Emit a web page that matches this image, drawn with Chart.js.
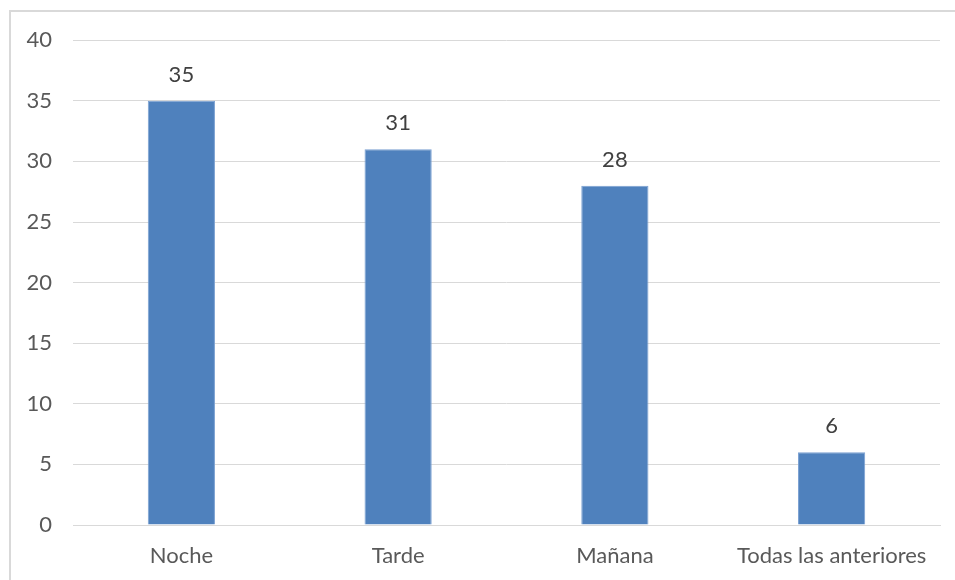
<!DOCTYPE html>
<html>
<head>
<meta charset="utf-8">
<script src="https://cdn.jsdelivr.net/npm/chart.js@4/dist/chart.umd.min.js"></script>
<style>
  html, body { margin: 0; padding: 0; background: #ffffff; }
  body { width: 955px; height: 580px; position: relative; overflow: hidden; }
  #frame {
    position: absolute; left: 9px; top: 10px;
    width: 946px; height: 570px;
    border-top: 2px solid #d9d9d9; border-left: 2px solid #d9d9d9;
  }
  #wrap { position: absolute; left: 0; top: -6px; width: 944px; height: 574px; }
</style>
</head>
<body>
<div id="frame"><div id="wrap"><canvas id="c"></canvas></div></div>
<script>
const categories = ['Noche', 'Tarde', 'Mañana', 'Todas las anteriores'];
const counts = [35, 31, 28, 6];
const yTicks = [0, 5, 10, 15, 20, 25, 30, 35, 40];

const FONT = 'Lato, "Open Sans", sans-serif';

// Writes each bar's value just above its top edge
const valueLabels = {
  id: 'valueLabels',
  afterDatasetsDraw(chart) {
    const ctx = chart.ctx;
    const meta = chart.getDatasetMeta(0);
    ctx.save();
    ctx.font = '22px ' + FONT;
    ctx.fillStyle = '#404040';
    ctx.textAlign = 'center';
    ctx.textBaseline = 'middle';
    meta.data.forEach((bar, i) => {
      ctx.fillText(String(counts[i]), bar.x, bar.y - 26);
    });
    ctx.restore();
  }
};

new Chart(document.getElementById('c'), {
  type: 'bar',
  data: {
    labels: categories,
    datasets: [{
      data: counts,
      backgroundColor: '#4f81bd',
      borderColor: '#7aa0d2',
      borderWidth: 1,
      barPercentage: 0.31,
      categoryPercentage: 1.0
    }]
  },
  options: {
    responsive: true,
    maintainAspectRatio: false,
    animation: false,
    layout: { padding: { top: 22, right: 15, left: 0, bottom: 0 } },
    plugins: { legend: { display: false }, tooltip: { enabled: false } },
    scales: {
      x: {
        grid: { display: false, drawTicks: false },
        border: { display: true, color: '#d9d9d9', width: 1 },
        ticks: { color: '#595959', font: { family: FONT, size: 22 }, padding: 18, maxRotation: 0 },
        afterFit(scale) { scale.height = 55; }
      },
      y: {
        min: 0,
        max: 40,
        afterBuildTicks(scale) { scale.ticks = yTicks.map(v => ({ value: v })); },
        grid: { color: '#d9d9d9', lineWidth: 1, drawTicks: false },
        border: { display: false },
        ticks: { color: '#595959', font: { family: FONT, size: 22 }, padding: 21 },
        afterFit(scale) { scale.width = 62; }
      }
    }
  },
  plugins: [valueLabels]
});
</script>
</body>
</html>
